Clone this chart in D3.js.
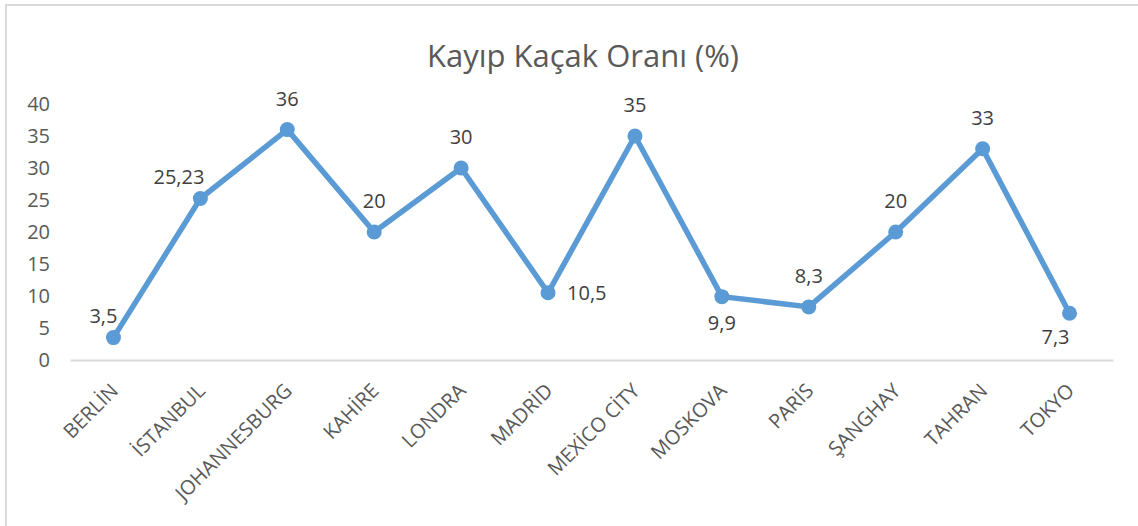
<!DOCTYPE html>
<html>
<head>
<meta charset="utf-8">
<script src="https://cdn.jsdelivr.net/npm/d3@7"></script>
<style>
  body { margin: 0; background: #fff; }
  text { font-family: "Open Sans", sans-serif; }
</style>
</head>
<body>
<div id="chart"></div>
<script>
// city names and loss rates
var cities = ['BERLİN', 'İSTANBUL', 'JOHANNESBURG', 'KAHİRE', 'LONDRA', 'MADRİD',
    'MEXİCO CİTY', 'MOSKOVA', 'PARİS', 'ŞANGHAY', 'TAHRAN', 'TOKYO'];
var rates = [3.5, 25.23, 36, 20, 30, 10.5, 35, 9.9, 8.3, 20, 33, 7.3];
var rateLabels = ['3,5', '25,23', '36', '20', '30', '10,5', '35', '9,9', '8,3', '20', '33', '7,3'];
// where each data label sits relative to its point
var labelSpots = ['leftTop', 'leftTop', 'top', 'top', 'top', 'right',
    'top', 'bottom', 'top', 'top', 'top', 'leftBottom'];
var yTicks = [0, 5, 10, 15, 20, 25, 30, 35, 40];

var width = 1138, height = 526;

var svg = d3.select('#chart').append('svg')
    .attr('width', width)
    .attr('height', height);

//chart area border
svg.append('rect')
    .attr('x', 6).attr('y', 5)
    .attr('width', 1200).attr('height', 600)
    .attr('fill', 'none')
    .attr('stroke', '#d9d9d9')
    .attr('stroke-width', 2);

svg.append('text')
    .attr('x', 583).attr('y', 67)
    .attr('text-anchor', 'middle')
    .attr('fill', '#595959')
    .style('font-size', '31px')
    .text('Kayıp Kaçak Oranı (%)');

var x = d3.scaleBand().domain(cities).range([70, 1113]);
var y = d3.scaleLinear().domain([0, 40]).range([360, 104]);

//y axis labels only, no line
var yAxis = svg.append('g')
    .attr('transform', 'translate(50,0)')
    .call(d3.axisLeft(y).tickValues(yTicks).tickSize(0).tickPadding(0));
yAxis.select('.domain').remove();
yAxis.selectAll('text')
    .attr('fill', '#595959')
    .style('font-size', '20px');

//x axis line and rotated city names
var xAxis = svg.append('g')
    .attr('transform', 'translate(0,360)')
    .call(d3.axisBottom(x).tickSize(0));
xAxis.select('.domain')
    .attr('stroke', '#d9d9d9')
    .attr('stroke-width', 2);
xAxis.selectAll('text')
    .attr('fill', '#595959')
    .style('font-size', '20px')
    .attr('text-anchor', 'end')
    .attr('dy', null)
    .attr('y', 0)
    .attr('transform', 'translate(6,32) rotate(-45)');

function cx(d, i) { return x(cities[i]) + x.bandwidth() / 2; }

var line = d3.line()
    .x(function (d, i) { return cx(d, i); })
    .y(function (d) { return y(d); });

svg.append('path')
    .datum(rates)
    .attr('d', line)
    .attr('fill', 'none')
    .attr('stroke', '#5b9bd5')
    .attr('stroke-width', 5.5)
    .attr('stroke-linejoin', 'round');

svg.append('g')
    .selectAll('circle')
    .data(rates)
    .enter()
    .append('circle')
    .attr('cx', cx)
    .attr('cy', function (d) { return y(d); })
    .attr('r', 7.5)
    .attr('fill', '#5b9bd5');

//label offsets by spot name
var spots = {
    top: { dx: 0, dy: -24, anchor: 'middle' },
    bottom: { dx: 0, dy: 33, anchor: 'middle' },
    right: { dx: 19, dy: 7, anchor: 'start' },
    leftTop: { dx: 4, dy: -15, anchor: 'end' },
    leftBottom: { dx: 0, dy: 31, anchor: 'end' }
};

svg.append('g')
    .selectAll('text')
    .data(rates)
    .enter()
    .append('text')
    .attr('x', function (d, i) { return cx(d, i) + spots[labelSpots[i]].dx; })
    .attr('y', function (d, i) { return y(d) + spots[labelSpots[i]].dy; })
    .attr('text-anchor', function (d, i) { return spots[labelSpots[i]].anchor; })
    .attr('fill', '#404040')
    .style('font-size', '20px')
    .text(function (d, i) { return rateLabels[i]; });
</script>
</body>
</html>
